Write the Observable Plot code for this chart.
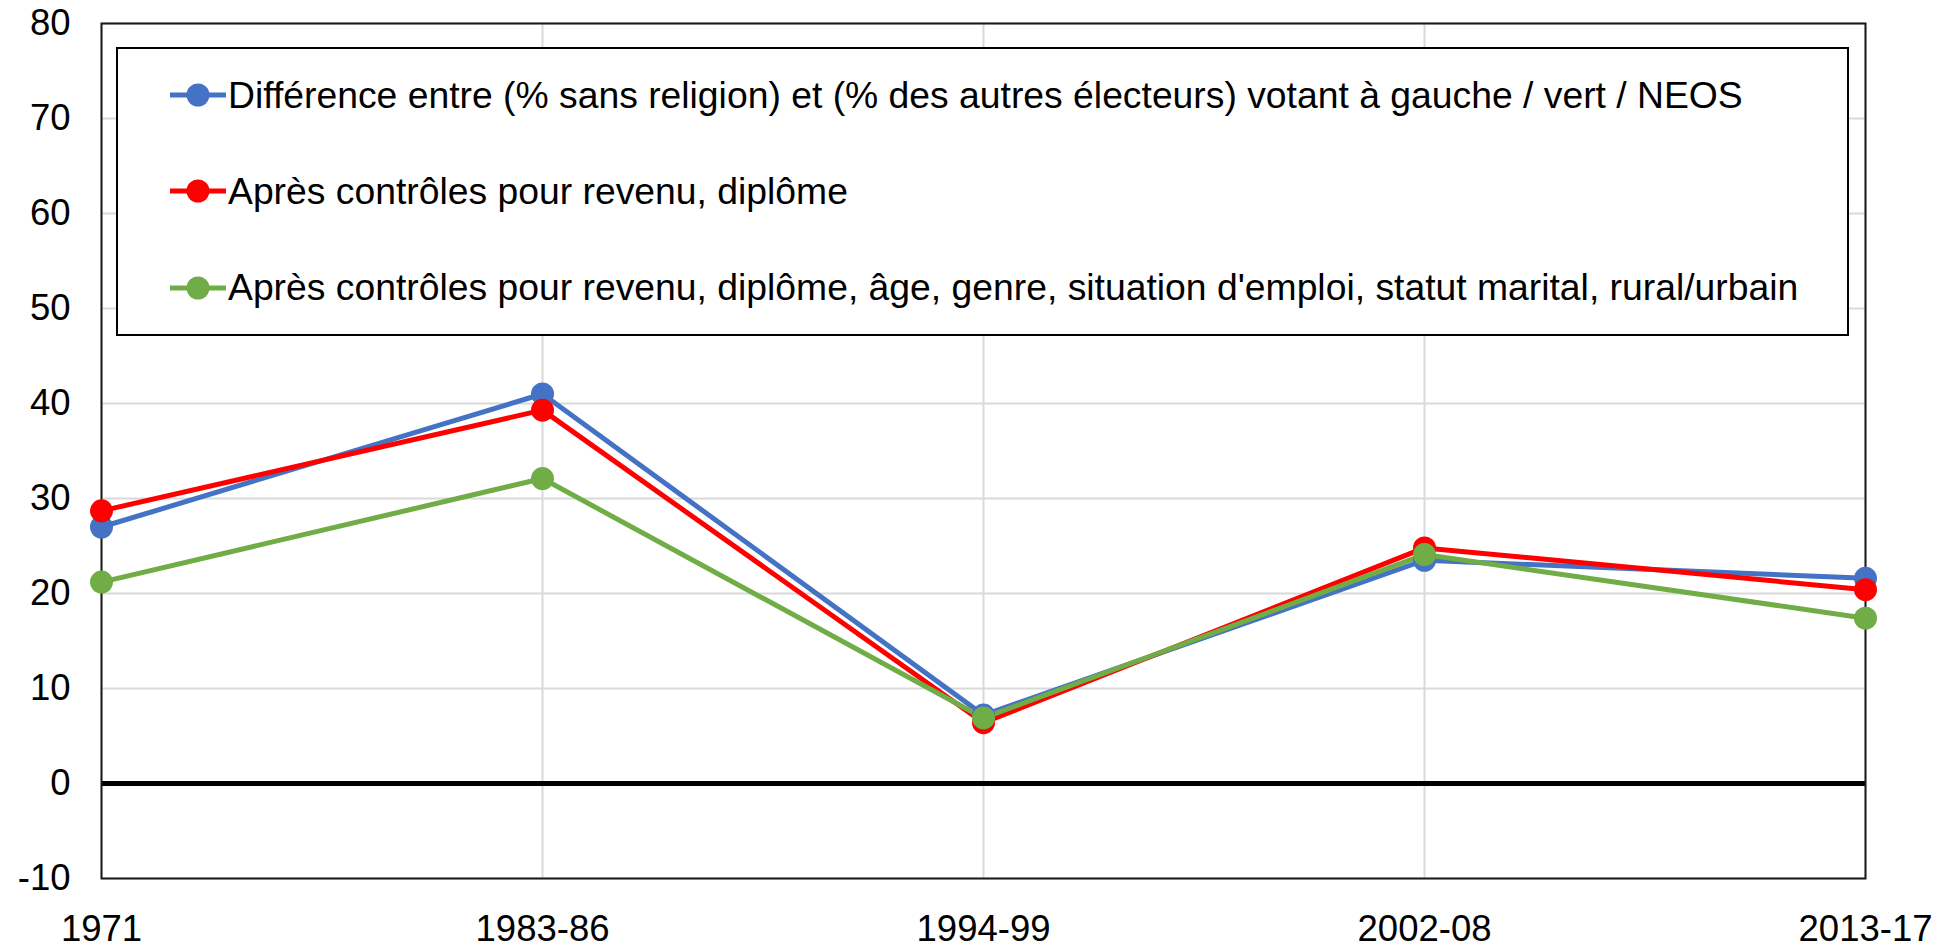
<!DOCTYPE html>
<html>
<head>
<meta charset="utf-8">
<script src="https://cdn.jsdelivr.net/npm/d3@7"></script>
<script src="https://cdn.jsdelivr.net/npm/@observablehq/plot@0.6"></script>
<style>
  html, body { margin: 0; padding: 0; background: #fff; }
  #wrap { position: relative; width: 1953px; height: 949px; font-family: "Liberation Sans", Arial, sans-serif; }
  #legend { position: absolute; left: 116px; top: 47px; width: 1733px; height: 289px; box-sizing: border-box;
            border: 2px solid #000; background: #fff; }
  .row { position: absolute; left: 0; height: 40px; display: flex; align-items: center; }
  .row svg { display: block; margin-left: 52px; }
  .row span { font-size: 37.3px; color: #000; white-space: nowrap; margin-left: 2px; }
</style>
</head>
<body>
<div id="wrap"></div>
<script>
const categories = ["1971", "1983-86", "1994-99", "2002-08", "2013-17"];
const seriesNames = [
  "Différence entre (% sans religion) et (% des autres électeurs) votant à gauche / vert / NEOS",
  "Après contrôles pour revenu, diplôme",
  "Après contrôles pour revenu, diplôme, âge, genre, situation d'emploi, statut marital, rural/urbain"
];
const seriesColors = ["#4472C4", "#FF0000", "#70AD47"];
const blueValues = [27.0, 41.0, 7.2, 23.5, 21.6];
const redValues = [28.7, 39.3, 6.4, 24.8, 20.4];
const greenValues = [21.2, 32.1, 6.9, 24.1, 17.4];
const yTicks = [-10, 0, 10, 20, 30, 40, 50, 60, 70, 80];

const allValues = [blueValues, redValues, greenValues];
const data = [];
allValues.forEach((vals, si) => {
  vals.forEach((v, i) => data.push({series: seriesNames[si], cat: categories[i], value: v}));
});

const chart = Plot.plot({
  width: 1953,
  height: 949,
  marginLeft: 101,
  marginRight: 88,
  marginTop: 23,
  marginBottom: 71,
  style: {fontSize: "36.5px", fontFamily: "'Liberation Sans', Arial, sans-serif", color: "#000", background: "#fff"},
  x: {type: "point", domain: categories, padding: 0},
  y: {domain: [-10, 80]},
  color: {domain: seriesNames, range: seriesColors},
  marks: [
    Plot.gridY(yTicks, {stroke: "#d9d9d9", strokeOpacity: 1, strokeWidth: 2}),
    Plot.gridX(categories, {stroke: "#d9d9d9", strokeOpacity: 1, strokeWidth: 2}),
    Plot.ruleY([0], {stroke: "#000", strokeWidth: 5}),
    Plot.frame({stroke: "#1a1a1a", strokeWidth: 2}),
    Plot.axisY(yTicks, {tickSize: 0, tickPadding: 31, label: null, fill: "#000", tickFormat: d => String(d)}),
    Plot.axisX(categories, {tickSize: 0, tickPadding: 37, label: null, fill: "#000"}),
    Plot.line(data, {x: "cat", y: "value", z: "series", stroke: "series", strokeWidth: 5, strokeLinejoin: "round"}),
    Plot.dot(data, {x: "cat", y: "value", fill: "series", r: 11.5, stroke: "none"})
  ]
});

const wrap = document.getElementById("wrap");
wrap.appendChild(chart);

const legend = document.createElement("div");
legend.id = "legend";
seriesNames.forEach((name, i) => {
  const row = document.createElement("div");
  row.className = "row";
  row.style.top = (48 + i * 96.3 - 2 - 20) + "px";
  row.innerHTML = `<svg width="56" height="26"><line x1="0" y1="13" x2="56" y2="13" stroke="${seriesColors[i]}" stroke-width="5"/><circle cx="28" cy="13" r="11.5" fill="${seriesColors[i]}"/></svg><span>${name}</span>`;
  legend.appendChild(row);
});
wrap.appendChild(legend);
</script>
</body>
</html>
